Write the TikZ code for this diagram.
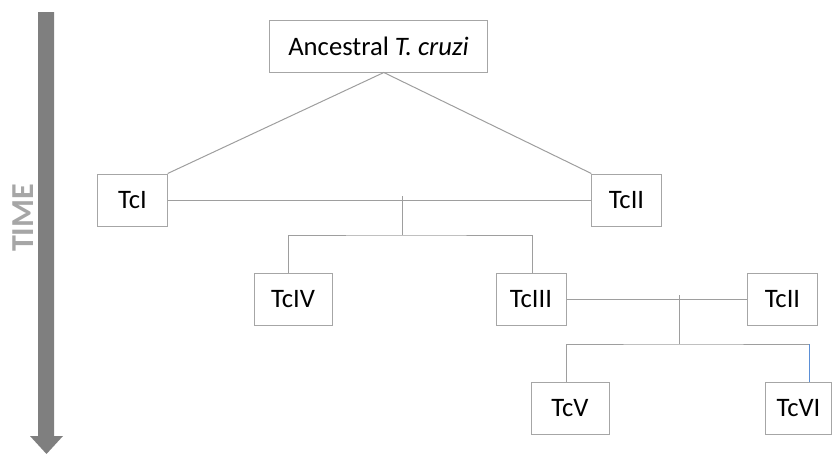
\documentclass[tikz,border=0pt]{standalone}
\usepackage{fontspec}
\setmainfont{Carlito}
\definecolor{boxgray}{HTML}{A6A6A6}
\definecolor{linegray}{HTML}{9E9E9E}
\definecolor{arrowgray}{HTML}{7F7F7F}
\definecolor{timegray}{HTML}{A6A6A6}
\definecolor{lineblue}{HTML}{5B8FD6}
\tikzset{
  clade/.style={draw=boxgray, line width=0.75pt, fill=white, minimum height=39pt,
    inner sep=0pt, font=\fontsize{20}{24}\selectfont},
  branch/.style={draw=linegray, line width=0.75pt}
}

\begin{document}
\begin{tikzpicture}[x=0.75pt, y=-0.75pt]
    \useasboundingbox (0,0) rectangle (833,454);
    % time axis
    \fill[arrowgray] (38,12) -- (54,12) -- (54,436) -- (63,436) -- (46.5,454) -- (30,436) -- (38,436) -- cycle;
    \node[rotate=90, text=timegray, font=\fontsize{24}{28}\selectfont\bfseries] (time) at (23,218) {TIME};
    % clades
    \node[clade, minimum width=164pt] (anc) at (378.5,46) {Ancestral \textit{T. cruzi}};
    \node[clade, minimum width=52pt] (tci) at (132.5,200) {TcI};
    \node[clade, minimum width=52pt] (tcii) at (626.5,200) {TcII};
    \node[clade, minimum width=58.5pt] (tciv) at (293,299) {TcIV};
    \node[clade, minimum width=52.5pt] (tciii) at (531,299) {TcIII};
    \node[clade, minimum width=52pt] (tciib) at (782.5,299) {TcII};
    \node[clade, minimum width=58.5pt] (tcv) at (570,408) {TcV};
    \node[clade, minimum width=50pt] (tcvi) at (798.5,408) {TcVI};
    \coordinate (hyb1) at (402,196);
    \coordinate (fork1) at (402,235);
    \coordinate (hyb2) at (679,295);
    \coordinate (fork2) at (679,344);
    % branches
    \draw[branch] (tci.north east) -- ([xshift=4pt]anc.south) -- (tcii.north west);
    \draw[branch] (tci.east) -- (tcii.west);
    \draw[branch] (hyb1) -- (fork1);
    \draw[branch] ([xshift=-3.75pt]tciv.north) |- (fork1) -| ([xshift=0.75pt]tciii.north);
    \draw[branch] (tciii.east) -- (tciib.west);
    \draw[branch] (hyb2) -- (fork2);
    \draw[branch] ([xshift=-3pt]tcv.north) |- (fork2) -| ([xshift=7.9pt]tcvi.north);
    \draw[lineblue, line width=0.75pt] ([xshift=7.9pt]tcvi.north) -- ([xshift=7.9pt]tcvi.north |- fork2);
\end{tikzpicture}
\end{document}
